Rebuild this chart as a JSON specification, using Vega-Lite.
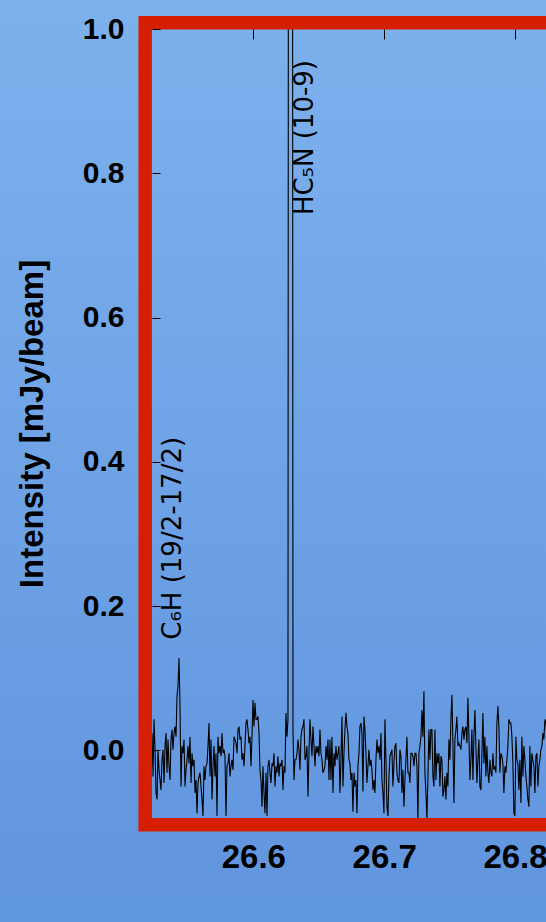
{
"$schema":"https://vega.github.io/schema/vega-lite/v6.json",
"width":394,"height":789,
"autosize":{"type":"none"},
"padding":{"left":152,"top":29,"right":0,"bottom":104},
"background":"#6fa4e6",
"config":{"view":{"stroke":null}},
"datasets":{
"spec":[
{"f":26.5226,"i":0.024},{"f":26.52336,"i":-0.036},{"f":26.52413,"i":0.043},{"f":26.52489,"i":0.001},{"f":26.52566,"i":-0.059},{"f":26.52642,"i":-0.068},{"f":26.52718,"i":0.001},{"f":26.52795,"i":-0.027},{"f":26.52871,"i":-0.041},{"f":26.52948,"i":-0.055},
{"f":26.53024,"i":-0.013},{"f":26.531,"i":0.001},{"f":26.53177,"i":-0.045},{"f":26.53253,"i":0.006},{"f":26.5333,"i":0.024},{"f":26.53406,"i":-0.031},{"f":26.53482,"i":0.015},{"f":26.53559,"i":-0.022},{"f":26.53635,"i":-0.041},{"f":26.53712,"i":0.015},
{"f":26.53788,"i":0.029},{"f":26.53864,"i":0.001},{"f":26.53941,"i":0.024},{"f":26.54017,"i":0.033},{"f":26.54094,"i":0.019},{"f":26.5417,"i":0.075},{"f":26.54246,"i":0.089},{"f":26.54323,"i":0.128},{"f":26.54399,"i":0.061},{"f":26.54476,"i":-0.05},
{"f":26.54552,"i":0.006},{"f":26.54628,"i":-0.004},{"f":26.54705,"i":0.015},{"f":26.54781,"i":-0.05},{"f":26.54858,"i":-0.027},{"f":26.54934,"i":-0.013},{"f":26.5501,"i":0.006},{"f":26.55087,"i":-0.018},{"f":26.55163,"i":0.019},{"f":26.5524,"i":-0.045},
{"f":26.55316,"i":-0.004},{"f":26.55392,"i":-0.022},{"f":26.55469,"i":-0.013},{"f":26.55545,"i":-0.059},{"f":26.55622,"i":-0.041},{"f":26.55698,"i":-0.087},{"f":26.55774,"i":-0.045},{"f":26.55851,"i":-0.036},{"f":26.55927,"i":-0.031},{"f":26.56004,"i":-0.05},
{"f":26.5608,"i":-0.068},{"f":26.56156,"i":-0.091},{"f":26.56233,"i":-0.022},{"f":26.56309,"i":-0.041},{"f":26.56386,"i":-0.022},{"f":26.56462,"i":-0.018},{"f":26.56538,"i":0.006},{"f":26.56615,"i":0.038},{"f":26.56691,"i":-0.036},{"f":26.56768,"i":0.015},
{"f":26.56844,"i":-0.068},{"f":26.5692,"i":-0.022},{"f":26.56997,"i":0.006},{"f":26.57073,"i":-0.036},{"f":26.5715,"i":-0.004},{"f":26.57226,"i":-0.091},{"f":26.57302,"i":0.019},{"f":26.57379,"i":-0.004},{"f":26.57455,"i":0.006},{"f":26.57532,"i":-0.008},
{"f":26.57608,"i":0.024},{"f":26.57684,"i":-0.004},{"f":26.57761,"i":0.001},{"f":26.57837,"i":-0.008},{"f":26.57914,"i":-0.091},{"f":26.5799,"i":-0.022},{"f":26.58066,"i":-0.018},{"f":26.58143,"i":-0.004},{"f":26.58219,"i":-0.036},{"f":26.58296,"i":-0.022},
{"f":26.58372,"i":-0.013},{"f":26.58448,"i":-0.027},{"f":26.58525,"i":0.019},{"f":26.58601,"i":0.015},{"f":26.58678,"i":0.01},{"f":26.58754,"i":-0.004},{"f":26.5883,"i":0.029},{"f":26.58907,"i":0.033},{"f":26.58983,"i":0.015},{"f":26.5906,"i":0.019},
{"f":26.59136,"i":-0.013},{"f":26.59212,"i":-0.004},{"f":26.59289,"i":-0.022},{"f":26.59365,"i":0.006},{"f":26.59442,"i":0.038},{"f":26.59518,"i":0.043},{"f":26.59594,"i":0.029},{"f":26.59671,"i":0.01},{"f":26.59747,"i":0.019},{"f":26.59824,"i":-0.022},
{"f":26.599,"i":0.019},{"f":26.59976,"i":0.07},{"f":26.60053,"i":0.033},{"f":26.60129,"i":0.066},{"f":26.60206,"i":0.043},{"f":26.60282,"i":0.043},{"f":26.60358,"i":0.047},{"f":26.60435,"i":0.024},{"f":26.60511,"i":-0.027},{"f":26.60588,"i":-0.041},
{"f":26.60664,"i":-0.078},{"f":26.6074,"i":-0.022},{"f":26.60817,"i":-0.059},{"f":26.60893,"i":-0.087},{"f":26.6097,"i":-0.031},{"f":26.61046,"i":-0.091},{"f":26.61122,"i":-0.022},{"f":26.61199,"i":-0.013},{"f":26.61275,"i":-0.031},{"f":26.61352,"i":-0.045},
{"f":26.61428,"i":-0.018},{"f":26.61504,"i":-0.022},{"f":26.61581,"i":-0.004},{"f":26.61657,"i":-0.05},{"f":26.61734,"i":-0.022},{"f":26.6181,"i":-0.031},{"f":26.61886,"i":-0.008},{"f":26.61963,"i":-0.036},{"f":26.62039,"i":-0.018},{"f":26.62116,"i":-0.022},
{"f":26.62192,"i":-0.013},{"f":26.62268,"i":-0.055},{"f":26.62345,"i":-0.022},{"f":26.62421,"i":-0.031},{"f":26.62498,"i":0.052},{"f":26.62574,"i":0.019},{"f":26.6265,"i":0.043},{"f":26.62704,"i":2.0},{"f":26.62979,"i":2.0},
{"f":26.63032,"i":0.029},{"f":26.63109,"i":-0.041},{"f":26.63185,"i":-0.013},{"f":26.63262,"i":-0.013},{"f":26.63338,"i":-0.004},{"f":26.63414,"i":0.015},{"f":26.63491,"i":0.001},{"f":26.63567,"i":-0.027},{"f":26.63644,"i":0.019},
{"f":26.6372,"i":0.029},{"f":26.63796,"i":0.033},{"f":26.63873,"i":0.043},{"f":26.63949,"i":-0.013},{"f":26.64026,"i":-0.008},{"f":26.64102,"i":0.006},{"f":26.64178,"i":-0.064},{"f":26.64255,"i":-0.004},{"f":26.64331,"i":0.043},{"f":26.64408,"i":0.015},
{"f":26.64484,"i":-0.008},{"f":26.6456,"i":0.033},{"f":26.64637,"i":0.006},{"f":26.64713,"i":-0.022},{"f":26.6479,"i":0.006},{"f":26.64866,"i":-0.004},{"f":26.64942,"i":0.006},{"f":26.65019,"i":-0.008},{"f":26.65095,"i":0.029},{"f":26.65172,"i":-0.004},
{"f":26.65248,"i":-0.013},{"f":26.65324,"i":-0.031},{"f":26.65401,"i":-0.027},{"f":26.65477,"i":-0.022},{"f":26.65554,"i":0.006},{"f":26.6563,"i":-0.013},{"f":26.65706,"i":0.015},{"f":26.65783,"i":-0.041},{"f":26.65859,"i":0.015},{"f":26.65936,"i":-0.041},
{"f":26.66012,"i":0.019},{"f":26.66088,"i":-0.059},{"f":26.66165,"i":-0.004},{"f":26.66241,"i":-0.022},{"f":26.66318,"i":0.006},{"f":26.66394,"i":-0.013},{"f":26.6647,"i":-0.004},{"f":26.66547,"i":0.006},{"f":26.66623,"i":-0.059},{"f":26.667,"i":-0.013},
{"f":26.66776,"i":0.047},{"f":26.66852,"i":-0.05},{"f":26.66929,"i":-0.004},{"f":26.67005,"i":0.029},{"f":26.67082,"i":0.052},{"f":26.67158,"i":0.033},{"f":26.67234,"i":0.024},{"f":26.67311,"i":-0.013},{"f":26.67387,"i":-0.018},{"f":26.67464,"i":-0.041},
{"f":26.6754,"i":-0.031},{"f":26.67616,"i":-0.085},{"f":26.67693,"i":-0.031},{"f":26.67769,"i":-0.05},{"f":26.67846,"i":-0.041},{"f":26.67922,"i":-0.087},{"f":26.67998,"i":-0.022},{"f":26.68075,"i":-0.004},{"f":26.68151,"i":0.033},{"f":26.68228,"i":0.038},
{"f":26.68304,"i":0.024},{"f":26.6838,"i":-0.057},{"f":26.68457,"i":0.047},{"f":26.68533,"i":0.029},{"f":26.6861,"i":-0.004},{"f":26.68686,"i":-0.045},{"f":26.68762,"i":-0.022},{"f":26.68839,"i":0.001},{"f":26.68915,"i":-0.022},{"f":26.68992,"i":-0.013},
{"f":26.69068,"i":-0.027},{"f":26.69144,"i":-0.055},{"f":26.69221,"i":-0.041},{"f":26.69297,"i":-0.059},{"f":26.69374,"i":-0.013},{"f":26.6945,"i":0.015},{"f":26.69526,"i":-0.004},{"f":26.69603,"i":0.006},{"f":26.69679,"i":-0.013},{"f":26.69756,"i":0.024},
{"f":26.69832,"i":-0.041},{"f":26.69908,"i":-0.059},{"f":26.69985,"i":-0.087},{"f":26.70061,"i":0.043},{"f":26.70138,"i":-0.013},{"f":26.70214,"i":-0.078},{"f":26.7029,"i":-0.091},{"f":26.70367,"i":-0.036},{"f":26.70443,"i":-0.008},{"f":26.7052,"i":-0.004},
{"f":26.70596,"i":0.001},{"f":26.70672,"i":-0.05},{"f":26.70749,"i":-0.018},{"f":26.70825,"i":0.006},{"f":26.70902,"i":0.01},{"f":26.70978,"i":-0.031},{"f":26.71054,"i":-0.041},{"f":26.71131,"i":-0.045},{"f":26.71207,"i":0.001},{"f":26.71284,"i":-0.008},
{"f":26.7136,"i":-0.059},{"f":26.71436,"i":-0.027},{"f":26.71513,"i":-0.078},{"f":26.71589,"i":-0.041},{"f":26.71666,"i":-0.013},{"f":26.71742,"i":0.019},{"f":26.71818,"i":-0.031},{"f":26.71895,"i":-0.031},{"f":26.71971,"i":-0.045},{"f":26.72048,"i":-0.004},
{"f":26.72124,"i":-0.004},{"f":26.722,"i":-0.008},{"f":26.72277,"i":-0.022},{"f":26.72353,"i":-0.004},{"f":26.7243,"i":-0.004},{"f":26.72506,"i":-0.022},{"f":26.72582,"i":-0.096},{"f":26.72659,"i":-0.004},{"f":26.72735,"i":0.006},{"f":26.72812,"i":0.019},
{"f":26.72888,"i":0.056},{"f":26.72964,"i":0.019},{"f":26.73041,"i":0.082},{"f":26.73117,"i":-0.031},{"f":26.73194,"i":-0.059},{"f":26.7327,"i":-0.096},{"f":26.73346,"i":-0.036},{"f":26.73423,"i":0.029},{"f":26.73499,"i":-0.013},{"f":26.73576,"i":0.029},
{"f":26.73652,"i":0.029},{"f":26.73728,"i":-0.036},{"f":26.73805,"i":-0.05},{"f":26.73881,"i":0.029},{"f":26.73958,"i":-0.041},{"f":26.74034,"i":-0.004},{"f":26.7411,"i":-0.018},{"f":26.74187,"i":-0.004},{"f":26.74263,"i":-0.05},{"f":26.7434,"i":-0.008},
{"f":26.74416,"i":-0.013},{"f":26.74492,"i":-0.064},{"f":26.74569,"i":-0.055},{"f":26.74645,"i":-0.036},{"f":26.74722,"i":-0.068},{"f":26.74798,"i":-0.031},{"f":26.74874,"i":-0.05},{"f":26.74951,"i":0.015},{"f":26.75027,"i":-0.013},{"f":26.75104,"i":0.043},
{"f":26.7518,"i":0.077},{"f":26.75256,"i":0.01},{"f":26.75333,"i":-0.073},{"f":26.75409,"i":0.015},{"f":26.75486,"i":0.029},{"f":26.75562,"i":0.047},{"f":26.75638,"i":0.006},{"f":26.75715,"i":0.01},{"f":26.75791,"i":0.006},{"f":26.75868,"i":0.001},
{"f":26.75944,"i":0.024},{"f":26.7602,"i":0.033},{"f":26.76097,"i":0.015},{"f":26.76173,"i":0.029},{"f":26.7625,"i":0.033},{"f":26.76326,"i":0.01},{"f":26.76402,"i":0.073},{"f":26.76479,"i":0.019},{"f":26.76555,"i":-0.041},{"f":26.76632,"i":-0.013},
{"f":26.76708,"i":0.029},{"f":26.76784,"i":-0.041},{"f":26.76861,"i":0.019},{"f":26.76937,"i":0.056},{"f":26.77014,"i":0.006},{"f":26.7709,"i":-0.045},{"f":26.77166,"i":-0.013},{"f":26.77243,"i":0.015},{"f":26.77319,"i":-0.05},{"f":26.77396,"i":-0.055},
{"f":26.77472,"i":-0.004},{"f":26.77548,"i":0.052},{"f":26.77625,"i":-0.018},{"f":26.77701,"i":0.019},{"f":26.77778,"i":-0.036},{"f":26.77854,"i":0.006},{"f":26.7793,"i":-0.031},{"f":26.78007,"i":-0.045},{"f":26.78083,"i":-0.013},{"f":26.7816,"i":-0.031},
{"f":26.78236,"i":-0.036},{"f":26.78312,"i":-0.004},{"f":26.78389,"i":-0.027},{"f":26.78465,"i":-0.022},{"f":26.78542,"i":-0.031},{"f":26.78618,"i":0.038},{"f":26.78694,"i":0.061},{"f":26.78771,"i":0.033},{"f":26.78847,"i":-0.031},{"f":26.78924,"i":-0.004},
{"f":26.79,"i":-0.008},{"f":26.79076,"i":-0.018},{"f":26.79153,"i":-0.059},{"f":26.79229,"i":-0.022},{"f":26.79306,"i":-0.031},{"f":26.79382,"i":-0.013},{"f":26.79458,"i":0.006},{"f":26.79535,"i":0.043},{"f":26.79611,"i":0.038},{"f":26.79688,"i":0.038},
{"f":26.79764,"i":0.019},{"f":26.7984,"i":-0.018},{"f":26.79917,"i":-0.087},{"f":26.79993,"i":-0.091},{"f":26.8007,"i":0.019},{"f":26.80146,"i":-0.013},{"f":26.80222,"i":-0.018},{"f":26.80299,"i":-0.055},{"f":26.80375,"i":-0.013},{"f":26.80452,"i":-0.073},
{"f":26.80528,"i":0.019},{"f":26.80604,"i":-0.036},{"f":26.80681,"i":0.006},{"f":26.80757,"i":-0.013},{"f":26.80834,"i":-0.036},{"f":26.8091,"i":-0.05},{"f":26.80986,"i":-0.068},{"f":26.81063,"i":-0.078},{"f":26.81139,"i":0.006},{"f":26.81216,"i":-0.05},
{"f":26.81292,"i":-0.004},{"f":26.81368,"i":-0.013},{"f":26.81445,"i":-0.022},{"f":26.81521,"i":-0.059},{"f":26.81598,"i":-0.008},{"f":26.81674,"i":-0.004},{"f":26.8175,"i":-0.05},{"f":26.81827,"i":-0.022},{"f":26.81903,"i":-0.013},{"f":26.8198,"i":0.001},
{"f":26.82056,"i":0.006},{"f":26.82132,"i":0.024},{"f":26.82209,"i":0.015},{"f":26.82285,"i":0.043},{"f":26.82362,"i":0.038},{"f":26.82438,"i":0.02}
],
"labels":[
{"f":26.646,"i":0.742,"t":"HC₅N (10-9)"},
{"f":26.5447,"i":0.1534,"t":"C₆H (19/2-17/2)"}
]
},
"layer":[
{"data":{"values":[{}]},
 "mark":{"type":"rect","clip":false,"fill":{"gradient":"linear","x1":0,"y1":0,"x2":0,"y2":1,"stops":[{"offset":0,"color":"#7db1ed"},{"offset":1,"color":"#6095df"}]}},
 "encoding":{
  "x":{"datum":26.40642,"type":"quantitative"},
  "x2":{"datum":26.95},
  "y":{"datum":1.04018,"type":"quantitative"},
  "y2":{"datum":-0.2378}
 }},
{"data":{"name":"spec"},
 "mark":{"type":"line","color":"black","strokeWidth":1.1,"clip":true},
 "encoding":{
  "x":{"field":"f","type":"quantitative",
   "scale":{"domain":[26.52258,26.8237],"nice":false,"zero":false},
   "axis":{"orient":"bottom","values":[26.6,26.7,26.8],"format":".1f","title":null,"domain":false,"ticks":false,"tickSize":0,
    "labelPadding":23,"labelFontSize":33,"labelFontWeight":"bold","labelColor":"black","labelFont":"Liberation Sans",
    "labelFlush":false,"labelOverlap":false,"grid":true,"gridColor":"black","gridOpacity":1,"gridWidth":1,"gridDash":[10,2000],"zindex":1}},
  "y":{"field":"i","type":"quantitative",
   "scale":{"domain":[-0.0937,1.0],"nice":false,"zero":false},
   "axis":{"orient":"left","values":[0,0.2,0.4,0.6,0.8,1.0],"format":".1f","domain":false,"ticks":false,"tickSize":0,
    "labelPadding":28,"labelFontSize":30,"labelFontWeight":"bold","labelColor":"black","labelFont":"Liberation Sans",
    "labelOverlap":false,"labelFlush":false,"grid":true,"gridColor":"black","gridOpacity":1,"gridWidth":1,"gridDash":[8,2000],
    "title":"Intensity [mJy/beam]","titleFont":"Liberation Sans","titleFontSize":33,"titleFontWeight":"bold","titleColor":"black",
    "titleAngle":270,"titleBaseline":"alphabetic","titleAlign":"center","titleX":-110,"titleY":394.5,"zindex":1}}
 }},
{"data":{"name":"labels"},
 "mark":{"type":"text","angle":270,"align":"left","baseline":"alphabetic","font":"DejaVu Sans","fontSize":26,"color":"black"},
 "encoding":{
  "x":{"field":"f","type":"quantitative"},
  "y":{"field":"i","type":"quantitative"},
  "text":{"field":"t"}
 }},
{"data":{"values":[{}]},
 "mark":{"type":"rect","clip":false,"fill":null,"stroke":"#d61e02","strokeWidth":13.5,"strokeJoin":"miter"},
 "encoding":{
  "x":{"datum":26.51738,"type":"quantitative"},
  "x2":{"datum":26.95},
  "y":{"datum":1.00873,"type":"quantitative"},
  "y2":{"datum":-0.10298}
 }}
]
}
